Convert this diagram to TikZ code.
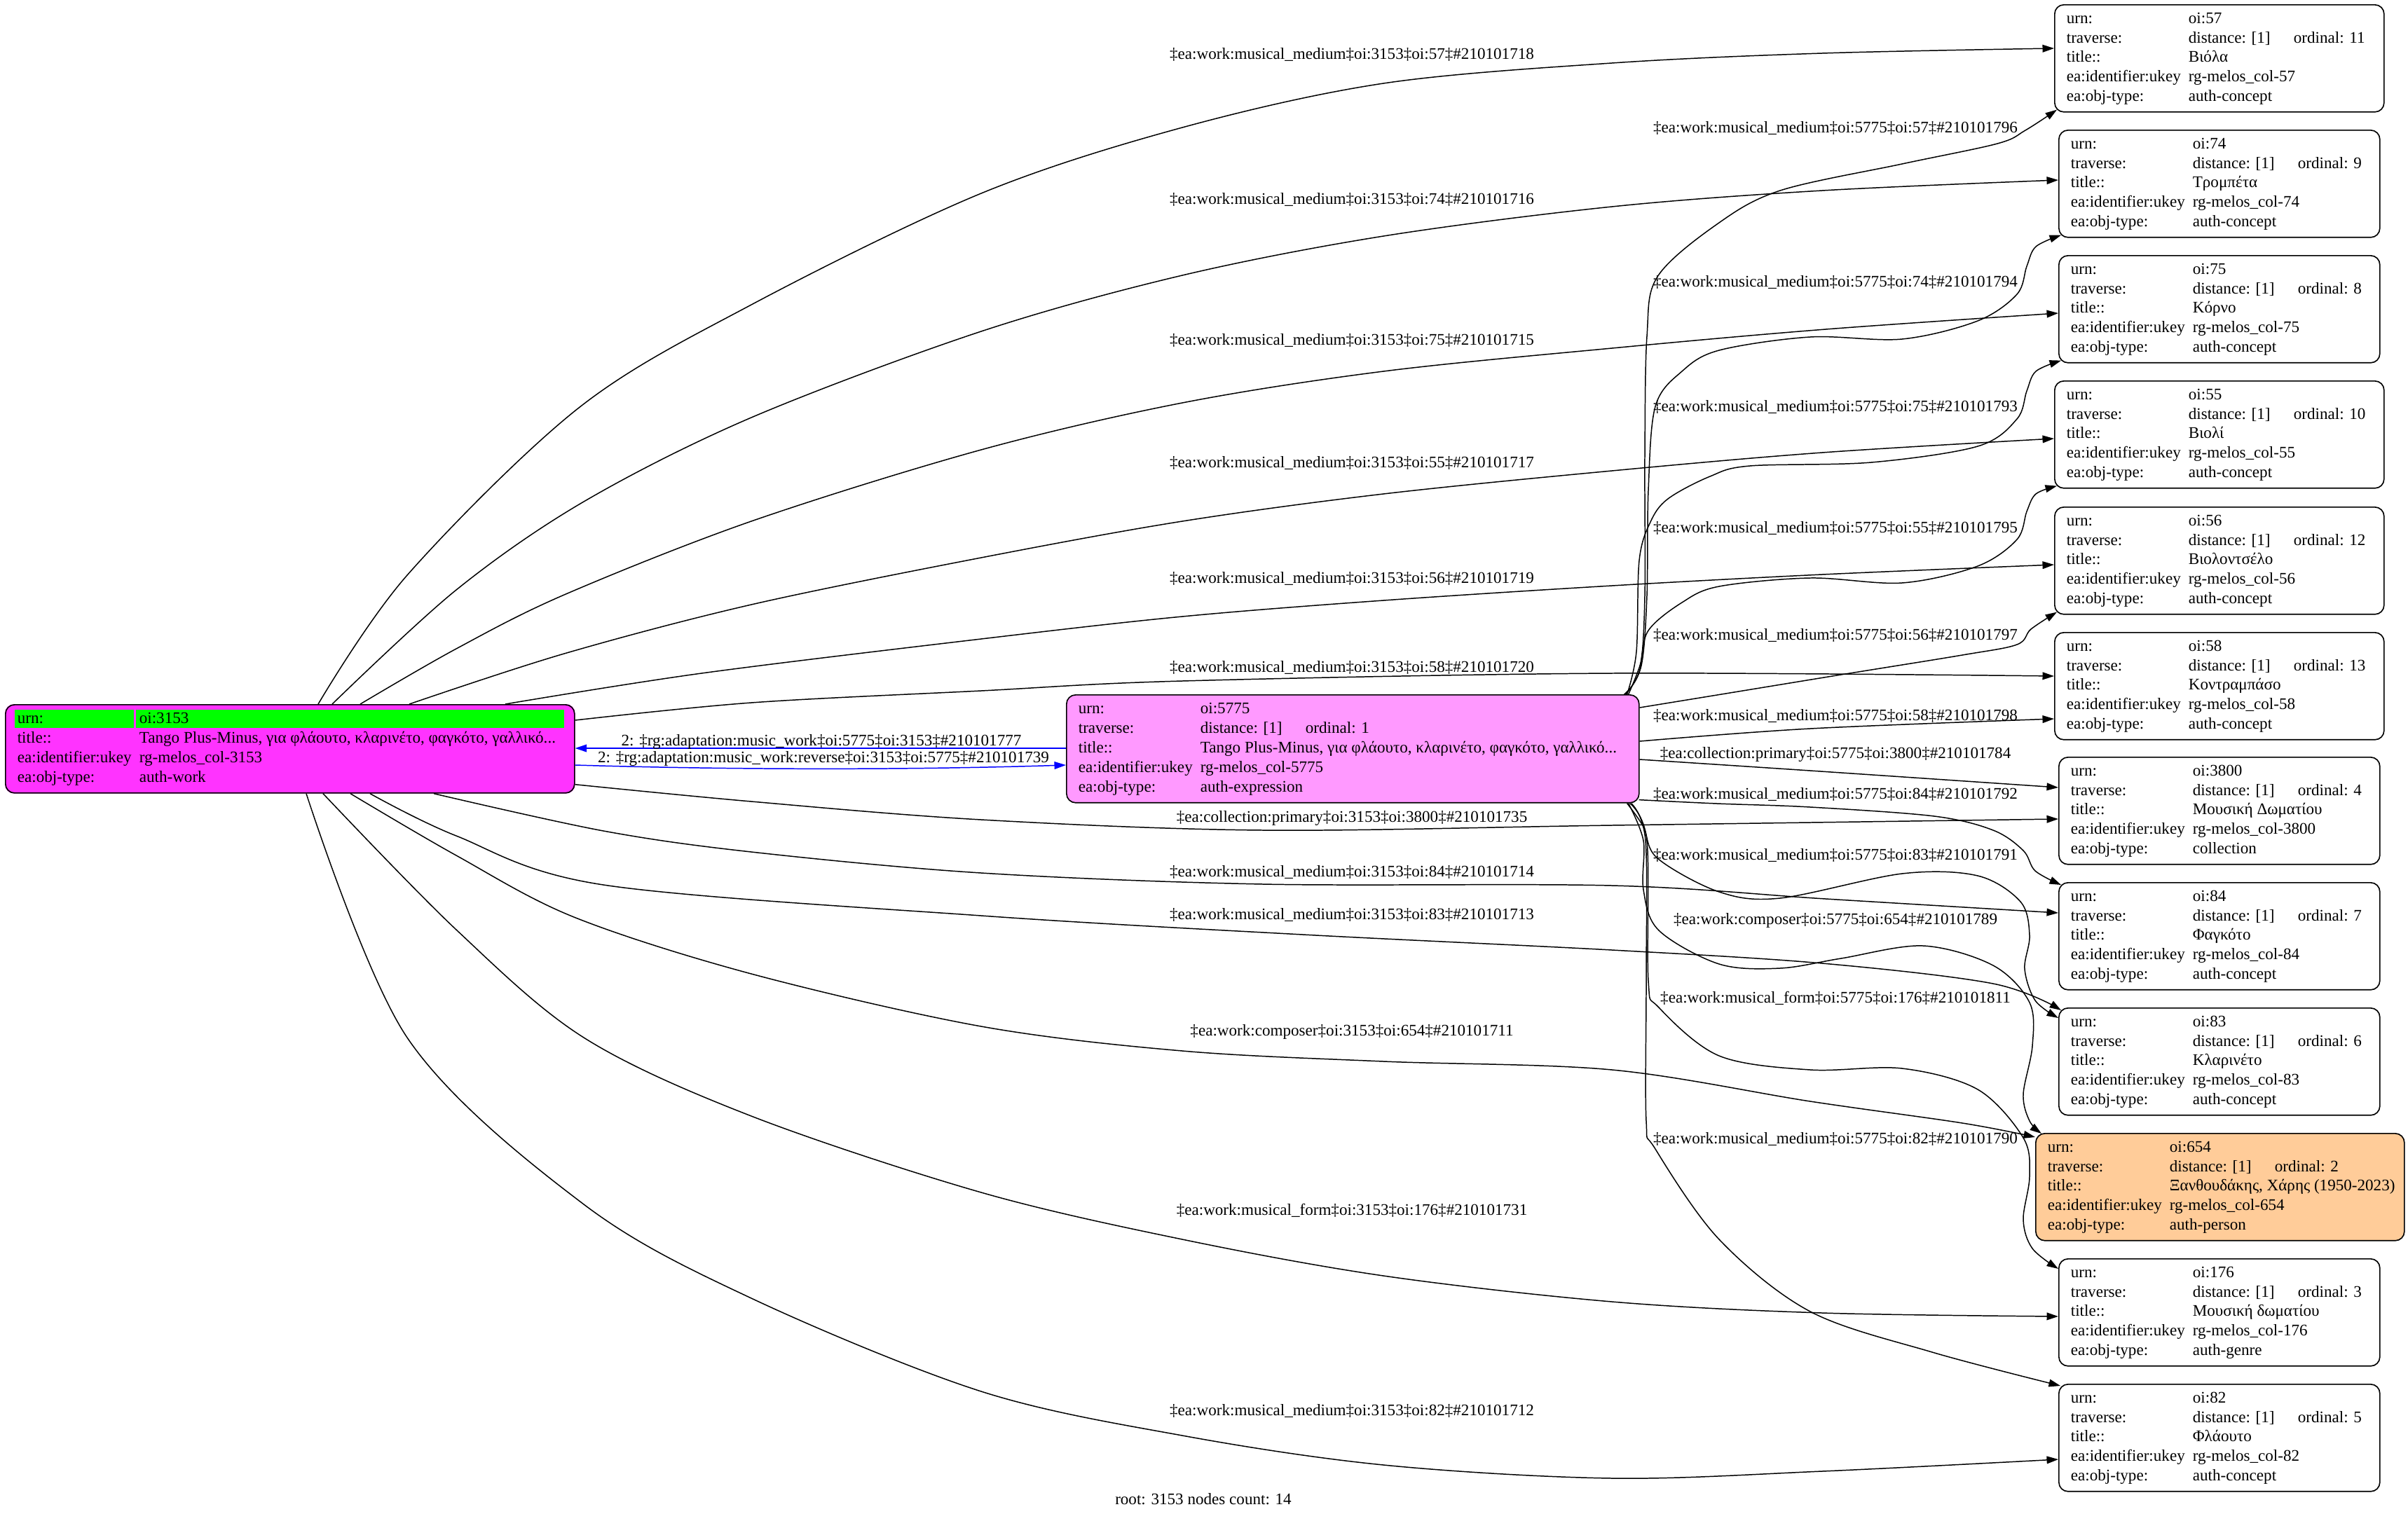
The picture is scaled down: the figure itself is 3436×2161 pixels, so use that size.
\documentclass[tikz,border=0pt]{standalone}
\usepackage{fontspec}
\setmainfont{Liberation Serif}
\usetikzlibrary{arrows.meta,calc,backgrounds}
\newdimen\pxu \pxu=0.606pt
\definecolor{mag}{HTML}{FF33FF}
\definecolor{pinkx}{HTML}{FF99FF}
\definecolor{peach}{HTML}{FFCC99}
\definecolor{grn}{HTML}{00FF00}
\definecolor{blu}{HTML}{0000FF}
\newcommand\recfont{\fontsize{14pt}{16.9pt}\selectfont}
\newcommand\recbox[2]{\makebox[#1\pxu][l]{\begin{tabular}{@{}p{174\pxu}@{}l@{}}#2\end{tabular}}}
\newcommand\trav[1]{\makebox[150\pxu][l]{distance: [1]}ordinal: #1}
\newcommand\recrows[4]{urn: & oi:#1\\ traverse: & \trav{#2}\\ title:: & #3\\ ea:identifier:ukey & rg-melos\_col-#1\\ ea:obj-type: & #4}
\begin{document}
\begin{tikzpicture}[x=0.606pt,y=-0.606pt,
 rec/.style={draw, line width=1pt, rounded corners=7.9pt, inner xsep=10.3pt, inner ysep=0pt, minimum height=92.7pt, anchor=north west, font=\recfont, fill=white},
 lbl/.style={inner sep=0pt, anchor=base, font=\recfont},
 conn/.style={line width=0.9pt, -{Triangle[length=10pt,width=6.5pt]}},
 bconn/.style={conn, blu}]
\useasboundingbox (0,0) rectangle (3436,2161);
\begin{scope}[on background layer]
\fill[white] (0,0) rectangle (3436,2161);
\end{scope}

% nodes
\node[rec, fill=none, minimum height=76.4pt] (n3153) at (7,1005) {\recbox{778}{urn: & oi:3153\\ title:: & Tango Plus-Minus, για φλάουτο, κλαρινέτο, φαγκότο, γαλλικό...\\ ea:identifier:ukey & rg-melos\_col-3153\\ ea:obj-type: & auth-work}};
\begin{scope}[on background layer]
\fill[mag, rounded corners=7.9pt] (n3153.north west) rectangle (n3153.south east);
\fill[grn] ($(n3153.north west)+(14,8)$) rectangle ($(n3153.north west)+(184,34)$);
\fill[grn] ($(n3153.north west)+(187,8)$) rectangle ($(n3153.north west)+(798,34)$);
\end{scope}
\node[rec, fill=pinkx, minimum height=93.3pt] (n5775) at (1521,991) {\recbox{783}{\recrows{5775}{1}{Tango Plus-Minus, για φλάουτο, κλαρινέτο, φαγκότο, γαλλικό...}{auth-expression}}};

\node[rec] (n57) at (2931,6) {\recbox{436}{\recrows{57}{11}{Βιόλα}{auth-concept}}};
\node[rec] (n74) at (2937,185) {\recbox{424}{\recrows{74}{9}{Τρομπέτα}{auth-concept}}};
\node[rec] (n75) at (2937,364) {\recbox{424}{\recrows{75}{8}{Κόρνο}{auth-concept}}};
\node[rec] (n55) at (2931,543) {\recbox{436}{\recrows{55}{10}{Βιολί}{auth-concept}}};
\node[rec] (n56) at (2931,723) {\recbox{436}{\recrows{56}{12}{Βιολοντσέλο}{auth-concept}}};
\node[rec] (n58) at (2931,902) {\recbox{436}{\recrows{58}{13}{Κοντραμπάσο}{auth-concept}}};
\node[rec] (n3800) at (2937,1080) {\recbox{424}{\recrows{3800}{4}{Μουσική Δωματίου}{collection}}};
\node[rec] (n84) at (2937,1259) {\recbox{424}{\recrows{84}{7}{Φαγκότο}{auth-concept}}};
\node[rec] (n83) at (2937,1438) {\recbox{424}{\recrows{83}{6}{Κλαρινέτο}{auth-concept}}};
\node[rec, fill=peach] (n654) at (2904,1617) {\recbox{492}{\recrows{654}{2}{Ξανθουδάκης, Χάρης (1950-2023)}{auth-person}}};
\node[rec] (n176) at (2937,1796) {\recbox{424}{\recrows{176}{3}{Μουσική δωματίου}{auth-genre}}};
\node[rec] (n82) at (2937,1975) {\recbox{424}{\recrows{82}{5}{Φλάουτο}{auth-concept}}};

% edges from 3153
\draw[conn] plot[smooth,tension=0.55] coordinates {($(n3153.north west)+(447,0)$) (581,821) (826,582) (1072,435) (1400,276) (1687,182) (1974,119) (2300,90) (2600,76) ($(n57.north west)+(0,63)$)};
\draw[conn] plot[smooth,tension=0.55] coordinates {($(n3153.north west)+(467,0)$) (651,842) (833,716) (1072,596) (1400,473) (1687,393) (1974,337) (2300,295) (2600,272) ($(n74.north west)+(0,72)$)};
\draw[conn] plot[smooth,tension=0.55] coordinates {($(n3153.north west)+(507,0)$) (651,926) (805,849) (1072,744) (1400,642) (1687,575) (1974,530) (2300,497) (2605,470) ($(n75.north west)+(0,83)$)};
\draw[conn] plot[smooth,tension=0.55] coordinates {($(n3153.north west)+(577,0)$) (805,933) (1072,863) (1400,796) (1687,744) (1974,705) (2300,672) (2600,646) ($(n55.north west)+(0,83)$)};
\draw[conn] plot[smooth,tension=0.55] coordinates {($(n3153.north west)+(714,0)$) (1001,961) (1400,912) (1687,880) (1974,857) (2300,836) (2600,820) ($(n56.north west)+(0,83)$)};
\draw[conn] plot[smooth,tension=0.55] coordinates {($(n3153.north east)+(0,23)$) (1072,1003) (1400,986) (1687,972) (2300,961) ($(n58.north west)+(0,63)$)};
\draw[conn] plot[smooth,tension=0.55] coordinates {($(n3153.south east)+(0,-13)$) (1072,1144) (1400,1170) (1802,1185) (2300,1178) ($(n3800.north west)+(0,89)$)};
\draw[conn] plot[smooth,tension=0.55] coordinates {($(n3153.south west)+(612,0)$) (861,1186) (1072,1216) (1400,1246) (1802,1262) (2300,1264) (2605,1283) ($(n84.north west)+(0,44)$)};
\draw[conn] plot[smooth,tension=0.55] coordinates {($(n3153.south west)+(521,0)$) (651,1193) (861,1263) (1400,1307) (1859,1334) (2300,1356) (2600,1375) (2844,1404) ($(n83.north west)+(4,4)$)};
\draw[conn] plot[smooth,tension=0.55] coordinates {($(n3153.south west)+(493,0)$) (651,1221) (819,1309) (1072,1390) (1400,1465) (1687,1500) (1974,1515) (2300,1527) (2583,1572) (2800,1603) ($(n654.north west)+(0,6)$)};
\draw[conn] plot[smooth,tension=0.55] coordinates {($(n3153.south west)+(454,0)$) (651,1327) (833,1481) (1072,1593) (1400,1702) (1687,1769) (1974,1821) (2300,1858) (2600,1874) ($(n176.north west)+(0,83)$)};
\draw[conn] plot[smooth,tension=0.55] coordinates {($(n3153.south west)+(430,0)$) (581,1481) (833,1719) (1072,1853) (1400,1986) (1687,2049) (1974,2091) (2300,2110) (2600,2100) ($(n82.north west)+(0,108)$)};

% adaptation edges
\draw[bconn] ($(n5775.north west)+(0,77)$) -- ($(n3153.north east)+(0,63)$);
\draw[bconn] ($(n3153.north east)+(0,87)$) .. controls (1050,1099) and (1300,1099) .. ($(n5775.north west)+(0,101)$);

% edges from 5775
\draw[conn] plot[smooth,tension=0.55] coordinates {($(n5775.north east)+(-22,0)$) (2340,955) (2347,850) (2347,650) (2350,480) (2365,395) (2450,320) (2540,272) (2714,234) (2850,205) (2890,186) ($(n57.south west)+(4,-4)$)};
\draw[conn] plot[smooth,tension=0.55] coordinates {($(n5775.north east)+(-20,0)$) (2342,950) (2350,850) (2352,700) (2362,580) (2400,530) (2453,500) (2583,481) (2714,484) (2822,458) (2878,420) (2892,380) (2905,352) ($(n74.south west)+(4,-4)$)};
\draw[conn] plot[smooth,tension=0.55] coordinates {($(n5775.north east)+(-18,0)$) (2335,930) (2339,800) (2355,745) (2380,712) (2440,680) (2497,665) (2670,660) (2822,637) (2878,598) (2892,558) (2905,530) ($(n75.south west)+(4,-4)$)};
\draw[conn] plot[smooth,tension=0.55] coordinates {($(n5775.north east)+(-16,0)$) (2340,950) (2352,900) (2400,860) (2453,837) (2583,825) (2714,832) (2822,808) (2878,770) (2892,730) (2905,705) ($(n55.south west)+(4,-4)$)};
\draw[conn] plot[smooth,tension=0.55] coordinates {($(n5775.north east)+(0,19)$) (2450,992) (2627,963) (2800,935) (2878,920) (2898,898) ($(n56.south west)+(4,-4)$)};
\draw[conn] plot[smooth,tension=0.55] coordinates {($(n5775.north east)+(0,67)$) (2583,1040) ($(n58.north west)+(0,124)$)};
\draw[conn] plot[smooth,tension=0.55] coordinates {($(n5775.north east)+(0,93)$) (2583,1100) ($(n3800.north west)+(0,44)$)};
\draw[conn] plot[smooth,tension=0.55] coordinates {($(n5775.south east)+(-1,-5)$) (2450,1147) (2583,1152) (2760,1165) (2844,1185) (2887,1214) (2904,1243) ($(n84.north west)+(4,4)$)};
\draw[conn] plot[smooth,tension=0.55] coordinates {($(n5775.south east)+(-18,0)$) (2345,1180) (2365,1225) (2453,1273) (2540,1282) (2714,1247) (2822,1250) (2883,1287) (2896,1335) (2889,1383) (2904,1428) ($(n83.north west)+(0,15)$)};
\draw[conn] plot[smooth,tension=0.55] coordinates {($(n5775.south east)+(-16,0)$) (2345,1200) (2345,1270) (2367,1328) (2453,1376) (2540,1382) (2627,1368) (2744,1350) (2844,1378) (2896,1431) (2900,1493) (2887,1562) (2896,1600) ($(n654.north west)+(9,1)$)};
\draw[conn] plot[smooth,tension=0.55] coordinates {($(n5775.south east)+(-14,0)$) (2350,1200) (2352,1400) (2367,1438) (2453,1507) (2583,1527) (2714,1525) (2822,1555) (2887,1624) (2896,1679) (2887,1741) (2900,1782) ($(n176.north west)+(0,15)$)};
\draw[conn] plot[smooth,tension=0.55] coordinates {($(n5775.south east)+(-12,0)$) (2348,1200) (2349,1400) (2349,1600) (2362,1640) (2453,1769) (2583,1872) (2757,1930) ($(n82.north west)+(3,3)$)};

% labels for edges from 3153
\node[lbl] (la57) at (1929,84) {‡ea:work:musical\_medium‡oi:3153‡oi:57‡\#210101718};
\node[lbl] (la74) at (1929,291) {‡ea:work:musical\_medium‡oi:3153‡oi:74‡\#210101716};
\node[lbl] (la75) at (1929,492) {‡ea:work:musical\_medium‡oi:3153‡oi:75‡\#210101715};
\node[lbl] (la55) at (1929,667) {‡ea:work:musical\_medium‡oi:3153‡oi:55‡\#210101717};
\node[lbl] (la56) at (1929,832) {‡ea:work:musical\_medium‡oi:3153‡oi:56‡\#210101719};
\node[lbl] (la58) at (1929,959) {‡ea:work:musical\_medium‡oi:3153‡oi:58‡\#210101720};
\node[lbl] (la3800) at (1929,1173) {‡ea:collection:primary‡oi:3153‡oi:3800‡\#210101735};
\node[lbl] (la84) at (1929,1251) {‡ea:work:musical\_medium‡oi:3153‡oi:84‡\#210101714};
\node[lbl] (la83) at (1929,1312) {‡ea:work:musical\_medium‡oi:3153‡oi:83‡\#210101713};
\node[lbl] (la654) at (1929,1478) {‡ea:work:composer‡oi:3153‡oi:654‡\#210101711};
\node[lbl] (la176) at (1929,1734) {‡ea:work:musical\_form‡oi:3153‡oi:176‡\#210101731};
\node[lbl] (la82) at (1929,2020) {‡ea:work:musical\_medium‡oi:3153‡oi:82‡\#210101712};
% labels for edges from 5775
\node[lbl] (lb57) at (2619,189) {‡ea:work:musical\_medium‡oi:5775‡oi:57‡\#210101796};
\node[lbl] (lb74) at (2619,409) {‡ea:work:musical\_medium‡oi:5775‡oi:74‡\#210101794};
\node[lbl] (lb75) at (2619,587) {‡ea:work:musical\_medium‡oi:5775‡oi:75‡\#210101793};
\node[lbl] (lb55) at (2619,760) {‡ea:work:musical\_medium‡oi:5775‡oi:55‡\#210101795};
\node[lbl] (lb56) at (2619,913) {‡ea:work:musical\_medium‡oi:5775‡oi:56‡\#210101797};
\node[lbl] (lb58) at (2619,1028) {‡ea:work:musical\_medium‡oi:5775‡oi:58‡\#210101798};
\node[lbl] (lb3800) at (2619,1082) {‡ea:collection:primary‡oi:5775‡oi:3800‡\#210101784};
\node[lbl] (lb84) at (2619,1140) {‡ea:work:musical\_medium‡oi:5775‡oi:84‡\#210101792};
\node[lbl] (lb83) at (2619,1227) {‡ea:work:musical\_medium‡oi:5775‡oi:83‡\#210101791};
\node[lbl] (lb654) at (2619,1319) {‡ea:work:composer‡oi:5775‡oi:654‡\#210101789};
\node[lbl] (lb176) at (2619,1431) {‡ea:work:musical\_form‡oi:5775‡oi:176‡\#210101811};
\node[lbl] (lb82) at (2619,1632) {‡ea:work:musical\_medium‡oi:5775‡oi:82‡\#210101790};
% adaptation labels
\node[lbl] (lc1) at (1172,1064) {2: ‡rg:adaptation:music\_work‡oi:5775‡oi:3153‡\#210101777};
\node[lbl] (lc2) at (1175,1088) {2: ‡rg:adaptation:music\_work:reverse‡oi:3153‡oi:5775‡\#210101739};
% footer
\node[lbl] (foot) at (1717,2147) {root: 3153 nodes count: 14};
\end{tikzpicture}
\end{document}
